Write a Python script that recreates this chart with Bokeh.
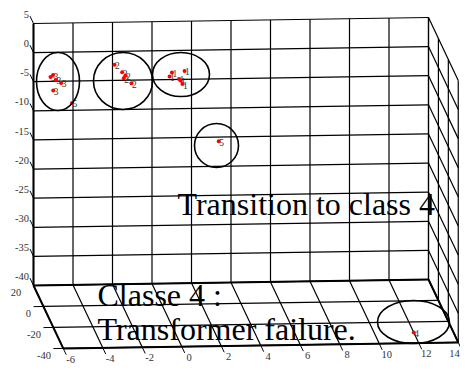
import numpy as np
from bokeh.plotting import figure
from bokeh.models import Range1d, ColumnDataSource
from bokeh.core.properties import value
from bokeh.embed import file_html
from bokeh.resources import INLINE

# ---------------- data ----------------
X_TICKS = [-6, -4, -2, 0, 2, 4, 6, 8, 10, 12, 14]
Y_TICKS = [20, 0, -20, -40]
Z_TICKS = [5, 0, -5, -10, -15, -20, -25, -30, -35, -40]
X_LABELS = ["-6", "-4", "-2", "0", "2", "4", "6", "8", "10", "12", "14"]
Y_LABELS = ["20", "0", "-20", "-40"]
Z_LABELS = ["5", "0", "-5", "-10", "-15", "-20", "-25", "-30", "-35", "-40"]

pt_x = [-5.14, -5.01, -4.86, -4.60, -5.00, -4.05,
        -1.90, -1.51, -1.34, -1.43, -1.04,
        1.01, 0.89, 1.65, 1.37, 1.44, 1.54,
        3.38, 12.0]
pt_y = [20, 20, 20, 20, 20, 20,
        20, 20, 20, 20, 20,
        20, 20, 20, 20, 20, 20,
        20, -30]
pt_z = [-4.23, -3.90, -4.76, -5.29, -6.56, -8.75,
        -2.30, -3.60, -4.17, -4.63, -5.51,
        -3.78, -4.46, -3.55, -4.91, -5.17, -5.78,
        -15.70, -40.0]
pt_class = ["5", "3", "3", "3", "3", "5",
            "2", "2", "2", "2", "2",
            "1", "1", "1", "1", "1", "1",
            "5", "4"]

ANN_TEXT = ["Transition to class 4", "Classe 4 :", "Transformer failure."]

# ---------------- view / layout (page px) ----------------
X0, Y1, Z0 = X_TICKS[0], Y_TICKS[0], Z_TICKS[-1]
XMAX, YMIN, ZMAX = X_TICKS[-1], Y_TICKS[-1], Z_TICKS[0]
O_SX, O_SY = 33.0, 285.0
PX_X = 19.75
TILT = 0.3
PX_Z = 262.0 / 45.0
DEPTH = 0.85
PX_YX = 35.0 / 60.0 * DEPTH
PX_YY = 74.0 / 60.0 * DEPTH


def proj(x, y, z):
    x = np.asarray(x, float)
    y = np.asarray(y, float)
    z = np.asarray(z, float)
    sx = O_SX + (x - X0) * PX_X + (Y1 - y) * PX_YX
    sy = O_SY - (x - X0) * TILT + (Y1 - y) * PX_YY - (z - Z0) * PX_Z
    return sx, sy


def segs(pairs):
    xs, ys = [], []
    for a, b in pairs:
        sx, sy = proj([a[0], b[0]], [a[1], b[1]], [a[2], b[2]])
        xs.append(list(sx))
        ys.append(list(sy))
    return xs, ys


W, H = 460, 364
p = figure(width=W, height=H, x_range=Range1d(0, W), y_range=Range1d(H, 0),
           x_axis_type=None, y_axis_type=None, toolbar_location=None,
           output_backend="svg", min_border=0)
p.outline_line_color = None
p.background_fill_color = "white"
p.border_fill_color = "white"

# grid lines
grid = []
for x in X_TICKS:
    grid.append(((x, Y1, Z0), (x, Y1, ZMAX)))        # back wall verticals
    grid.append(((x, Y1, Z0), (x, YMIN, Z0)))        # floor
for z in Z_TICKS:
    grid.append(((X0, Y1, z), (XMAX, Y1, z)))        # back wall horizontals
    grid.append(((XMAX, Y1, z), (XMAX, YMIN, z)))    # right wall
for y in Y_TICKS:
    grid.append(((XMAX, y, Z0), (XMAX, y, ZMAX)))    # right wall verticals
    grid.append(((X0, y, Z0), (XMAX, y, Z0)))        # floor
gx, gy = segs(grid)
p.multi_line(gx, gy, line_color="black", line_width=1.2)

# box edges / axes
edges = [((X0, Y1, Z0), (X0, Y1, ZMAX)),
         ((X0, Y1, Z0), (XMAX, Y1, Z0)),
         ((X0, YMIN, Z0), (XMAX, YMIN, Z0)),
         ((X0, Y1, Z0), (X0, YMIN, Z0)),
         ((XMAX, Y1, Z0), (XMAX, YMIN, Z0))]
ex, ey = segs(edges)
p.multi_line(ex, ey, line_color="black", line_width=2)

# ticks
TLZ = 7.0
TL = 6.0
TLX = 0.5
ticks = []
for z in Z_TICKS:
    ticks.append(((X0, Y1, z), (X0, Y1 + TLZ, z)))
for x in X_TICKS:
    ticks.append(((x, YMIN, Z0), (x, YMIN - TL, Z0)))
for y in Y_TICKS[1:]:
    ticks.append(((X0, y, Z0), (X0 - TLX, y, Z0)))
tx, ty = segs(ticks)
p.multi_line(tx, ty, line_color="black", line_width=1)

font = value("Liberation Serif")
TICK_FS = "10.5px"
# z tick labels
zx, zy = proj([X0] * len(Z_TICKS), [Y1 + TLZ] * len(Z_TICKS), Z_TICKS)
p.text(x=zx - 1.0, y=zy - 1.5, text=Z_LABELS, text_font=font, text_font_size=TICK_FS,
       text_align="right", text_baseline="middle", text_color="#333333")
# y tick labels
yx, yy = proj([X0 - TLX] * len(Y_TICKS), Y_TICKS, [Z0] * len(Y_TICKS))
p.text(x=yx - 2.5, y=yy + 7, text=Y_LABELS, text_font=font, text_font_size=TICK_FS,
       text_align="right", text_baseline="middle", text_color="#333333")
# x tick labels
xx, xy = proj(X_TICKS, [YMIN - TL] * len(X_TICKS), [Z0] * len(X_TICKS))
xl = np.minimum(xx + 4.5, W - 6.0)
p.text(x=xl, y=xy + 4.5, text=X_LABELS, text_font=font, text_font_size=TICK_FS,
       text_align="center", text_baseline="middle", text_color="#333333")

# data points with class labels
px_, py_ = proj(pt_x, pt_y, pt_z)
src = ColumnDataSource(dict(sx=px_, sy=py_, lab=pt_class))
p.text(x="sx", y="sy", text="lab", source=src, x_offset=0.5, y_offset=1,
       text_font=font, text_font_size="9.5px", text_align="left",
       text_baseline="middle", text_color="#333333")
p.scatter(x="sx", y="sy", source=src, size=4, fill_color="red", line_color=None)

# ellipses (annotation, page px)
ELL_CX = [57.5, 122.5, 180.5, 216.0, 413.0]
ELL_CY = [81.0, 80.5, 74.0, 145.0, 321.5]
ELL_W = [43, 59, 57, 44, 72]
ELL_H = [58, 57, 44, 44, 43]
p.ellipse(x=ELL_CX, y=ELL_CY, width=ELL_W, height=ELL_H,
          width_units="screen", height_units="screen",
          fill_color=None, line_color="black", line_width=1.6)

# annotation texts
ANN_X = [177, 97, 97]
ANN_Y = [203, 294, 328]
p.text(x=ANN_X, y=ANN_Y, text=ANN_TEXT, text_font=font, text_font_size="32px",
       text_align="left", text_baseline="alphabetic", text_color="black")

open("out.html", "w").write(file_html(p, INLINE))
